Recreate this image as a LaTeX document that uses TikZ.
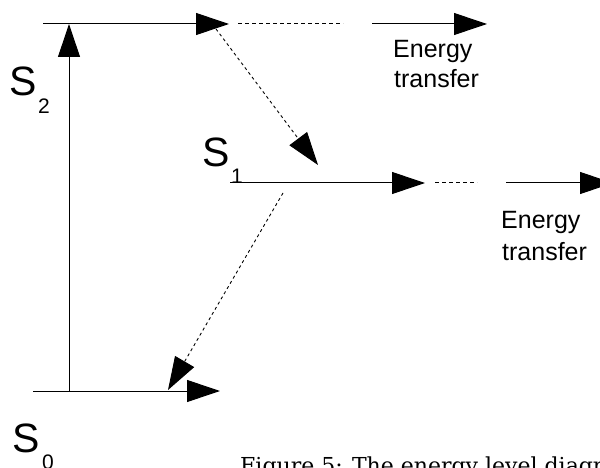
\documentclass[tikz,border=0pt]{standalone}
\usepackage{fontspec}
\setmainfont{Liberation Sans}
\newfontfamily\capfont{DejaVu Serif}
\usetikzlibrary{arrows.meta}
\tikzset{
  lvl/.style={line width=1pt, -{Triangle[length=33pt,width=22pt]}},
  dotline/.style={line width=1pt, dash pattern=on 4pt off 3pt},
  diag/.style={line width=0.9pt, dash pattern=on 3pt off 3pt, -{Triangle[length=33pt,width=22pt]}},
  bigS/.style={anchor=base west, inner sep=0pt, font=\fontsize{41}{41}\selectfont},
  subS/.style={anchor=base west, inner sep=0pt, font=\fontsize{21}{21}\selectfont},
  etxt/.style={anchor=base west, inner sep=0pt, font=\fontsize{25}{25}\selectfont},
  captxt/.style={anchor=base west, inner sep=0pt, font=\capfont\fontsize{22}{22}\selectfont}
}
\begin{document}
\begin{tikzpicture}[x=1pt,y=-1pt]
\useasboundingbox (0,0) rectangle (600,468);
\clip (0,0) rectangle (600,468);
% coordinates
\coordinate (L2a) at (43,24);
\coordinate (L2b) at (229,24);
\coordinate (D2a) at (238,24);
\coordinate (D2b) at (343,24);
\coordinate (E2a) at (372,24);
\coordinate (E2b) at (487,24);
\coordinate (L1a) at (230,183);
\coordinate (L1b) at (425,183);
\coordinate (D1a) at (435,183);
\coordinate (D1b) at (477,183);
\coordinate (E1a) at (506,183);
\coordinate (E1b) at (613,183);
\coordinate (L0a) at (33,391);
\coordinate (L0b) at (220,391);
\coordinate (Vb) at (69,391);
\coordinate (Vt) at (69,24);
\coordinate (G1a) at (216,29);
\coordinate (G1b) at (318,165);
\coordinate (G2a) at (283,193);
\coordinate (G2b) at (168,390);
% levels
\draw[lvl] (L2a) -- (L2b);
\draw[dotline] (D2a) -- (D2b);
\draw[lvl] (E2a) -- (E2b);
\draw[lvl] (L1a) -- (L1b);
\draw[dotline] (D1a) -- (D1b);
\draw[lvl] (E1a) -- (E1b);
\draw[lvl] (L0a) -- (L0b);
\draw[lvl] (Vb) -- (Vt);
\draw[diag] (G1a) -- (G1b);
\draw[diag] (G2a) -- (G2b);
% labels
\node[bigS] (s2) at (9,96) {S};
\node[subS] (s2i) at (38,114) {2};
\node[bigS] (s1) at (202,167) {S};
\node[subS] (s1i) at (231,183) {1};
\node[bigS] (s0) at (12,452) {S};
\node[subS] (s0i) at (42,469) {0};
\node[etxt] (et2a) at (393,58) {Energy};
\node[etxt] (et2b) at (394,88) {transfer};
\node[etxt] (et1a) at (501,229) {Energy};
\node[etxt] (et1b) at (502,260) {transfer};
\node[captxt] (cap) at (240,473) {Figure 5: The energy level diagram};
\end{tikzpicture}
\end{document}
